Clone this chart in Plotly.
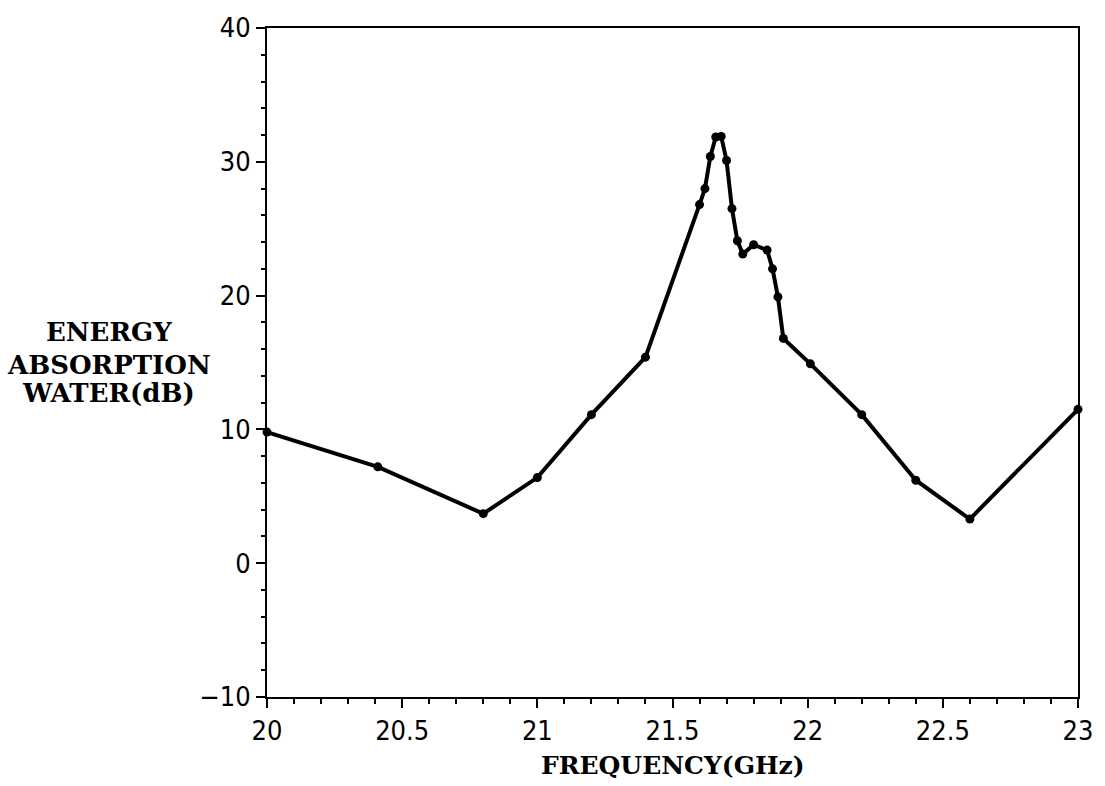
import plotly.graph_objects as go

freq_ghz = [20.0, 20.41, 20.8, 21.0, 21.2, 21.4, 21.6, 21.62, 21.64, 21.66, 21.68,
            21.70, 21.72, 21.74, 21.76, 21.80, 21.85, 21.87, 21.89, 21.91, 22.01,
            22.2, 22.4, 22.6, 23.0]
absorption_db = [9.8, 7.2, 3.7, 6.4, 11.1, 15.4, 26.8, 28.0, 30.4, 31.85, 31.9,
                 30.1, 26.5, 24.1, 23.1, 23.8, 23.4, 22.0, 19.9, 16.8, 14.9,
                 11.1, 6.2, 3.3, 11.5]

x_ticks = [20, 20.5, 21, 21.5, 22, 22.5, 23]
x_tick_labels = ["20", "20.5", "21", "21.5", "22", "22.5", "23"]
y_ticks = [-10, 0, 10, 20, 30, 40]
y_tick_labels = ["\u221210", "0", "10", "20", "30", "40"]
y_title_lines = ["ENERGY", "ABSORPTION", "WATER(dB)"]
x_title = "FREQUENCY(GHz)"

W, H = 1105, 786
ML, MR, MT, MB = 267, 19, 16, 89
plot_h = H - MT - MB

tick_font = dict(family="DejaVu Sans Condensed, Liberation Sans Narrow, Roboto, sans-serif",
                 size=27, color="black")
title_font = dict(family="DejaVu Serif, Liberation Serif, serif", size=26, color="black")
xtitle_font = dict(family="DejaVu Serif, Liberation Serif, serif", size=25, color="black")

fig = go.Figure()
fig.add_trace(go.Scatter(
    x=freq_ghz, y=absorption_db, mode="lines+markers",
    line=dict(color="black", width=4),
    marker=dict(color="black", size=9),
    showlegend=False, cliponaxis=False, hoverinfo="skip",
))

annotations = []
for line, ypx in zip(y_title_lines, [325, 359, 388]):
    annotations.append(dict(
        text="<b>%s</b>" % line, xref="paper", yref="paper",
        x=-0.195, y=(H - MB - ypx) / plot_h, xanchor="center", yanchor="middle",
        showarrow=False, font=title_font))
annotations.append(dict(
    text="<b>%s</b>" % x_title, xref="paper", yref="paper",
    x=0.5, y=(H - MB - 767) / plot_h, xanchor="center", yanchor="middle",
    showarrow=False, font=xtitle_font))

fig.update_layout(
    width=W, height=H,
    margin=dict(l=ML, r=MR, t=MT, b=MB),
    paper_bgcolor="white", plot_bgcolor="white",
    xaxis=dict(
        range=[20, 23], tickmode="array", tickvals=x_ticks, ticktext=x_tick_labels,
        ticks="outside", ticklen=9, tickwidth=2, tickcolor="black",
        showline=True, linecolor="black", linewidth=2, mirror=True,
        showgrid=False, zeroline=False, tickfont=tick_font,
        minor=dict(dtick=0.1, ticks="outside", ticklen=5, tickwidth=1.5, tickcolor="black", showgrid=False),
    ),
    yaxis=dict(
        range=[-10, 40], tickmode="array", tickvals=y_ticks, ticktext=y_tick_labels,
        ticks="outside", ticklen=9, tickwidth=2, tickcolor="black",
        showline=True, linecolor="black", linewidth=2, mirror=True,
        showgrid=False, zeroline=False, tickfont=tick_font,
        minor=dict(dtick=2, ticks="outside", ticklen=4, tickwidth=1.5, tickcolor="black", showgrid=False),
    ),
    annotations=annotations,
)

fig.write_html("out.html", config={"displayModeBar": False},
               post_script="document.body.style.margin='0';document.documentElement.style.overflow='hidden';")
